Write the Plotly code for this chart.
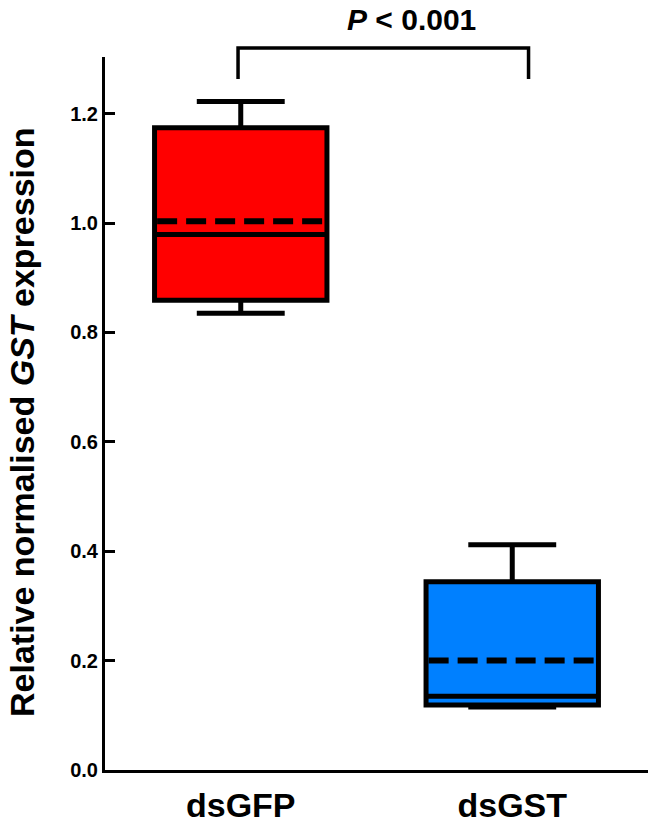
import plotly.graph_objects as go

# ---- data ----
groups = ["dsGFP", "dsGST"]
group_pos = [0, 1]
lower_fence = [0.835, 0.115]
q1_vals = [0.859, 0.119]
median_vals = [0.979, 0.135]
q3_vals = [1.174, 0.344]
upper_fence = [1.222, 0.412]
mean_vals = [1.003, 0.200]
box_colors = ["rgb(255,0,0)", "rgb(0,128,255)"]
y_ticks = [0.0, 0.2, 0.4, 0.6, 0.8, 1.0, 1.2]
p_label = "<i>P</i> &lt; 0.001"

FONT = "Arial, Liberation Sans, sans-serif"
BOX_W = 0.635

fig = go.Figure()
for i, g in enumerate(groups):
    fig.add_trace(go.Box(
        x=[group_pos[i]], q1=[q1_vals[i]], median=[median_vals[i]], q3=[q3_vals[i]],
        lowerfence=[lower_fence[i]], upperfence=[upper_fence[i]],
        boxpoints=False, name=g,
        fillcolor=box_colors[i],
        line=dict(color="black", width=5),
        whiskerwidth=0.51, width=BOX_W, showlegend=False,
    ))
    # mean as dashed line across the box
    fig.add_trace(go.Scatter(
        x=[group_pos[i] - BOX_W / 2 * 0.97, group_pos[i] + BOX_W / 2 * 0.97],
        y=[mean_vals[i], mean_vals[i]], mode="lines",
        line=dict(color="black", width=6, dash="20px,9px"),
        showlegend=False, hoverinfo="skip",
    ))

W, H = 650, 825
ml, mr, mt, mb = 105, 2, 57, 825 - 770
plot_h = H - mt - mb
px_per_unit = 547.0
y_top = plot_h / px_per_unit

def paper_y(pix):
    return (H - mb - pix) / plot_h

def paper_x(pix):
    return (pix - ml) / (W - ml - mr)

# significance bracket (x in data units, y in paper)
x_left, x_right = -0.01, 1.06
fig.add_shape(type="path", xref="x", yref="paper",
              path=f"M {x_left},{paper_y(79)} L {x_left},{paper_y(48)} L {x_right},{paper_y(48)} L {x_right},{paper_y(79)}",
              line=dict(color="black", width=3.5))
fig.add_annotation(x=paper_x(411), y=paper_y(19), xref="paper", yref="paper",
                   text=p_label, showarrow=False,
                   font=dict(family=FONT, size=30, color="black", weight="bold"),
                   xanchor="center", yanchor="middle")
# y title
fig.add_annotation(x=paper_x(22), y=paper_y(422), xref="paper", yref="paper",
                   text="Relative normalised <i>GST</i> expression", showarrow=False,
                   textangle=-90,
                   font=dict(family=FONT, size=34, color="black", weight="bold"),
                   xanchor="center", yanchor="middle")

fig.update_layout(
    width=W, height=H,
    margin=dict(l=ml, r=mr, t=mt, b=mb, autoexpand=False),
    paper_bgcolor="white", plot_bgcolor="white",
    font=dict(family=FONT, color="black"),
    xaxis=dict(range=[-0.5, 1.5], tickvals=group_pos, ticktext=groups,
               showline=True, linewidth=3, automargin=False,
               linecolor="black", ticks="", showgrid=False, zeroline=False,
               tickfont=dict(family=FONT, size=34, color="black", weight="bold"),
               ticklabelstandoff=3),
    yaxis=dict(range=[0, y_top], tickvals=y_ticks, tickformat=".1f",
               showline=True, linewidth=3, linecolor="black", automargin=False,
               ticks="inside", ticklen=10, tickwidth=2.5, tickcolor="black",
               showgrid=False, zeroline=False,
               tickfont=dict(family=FONT, size=20, color="black", weight="bold")),
)

fig.write_html("out.html", config={"displayModeBar": False},
               post_script="document.body.style.margin='0px';document.body.style.overflow='hidden';")
